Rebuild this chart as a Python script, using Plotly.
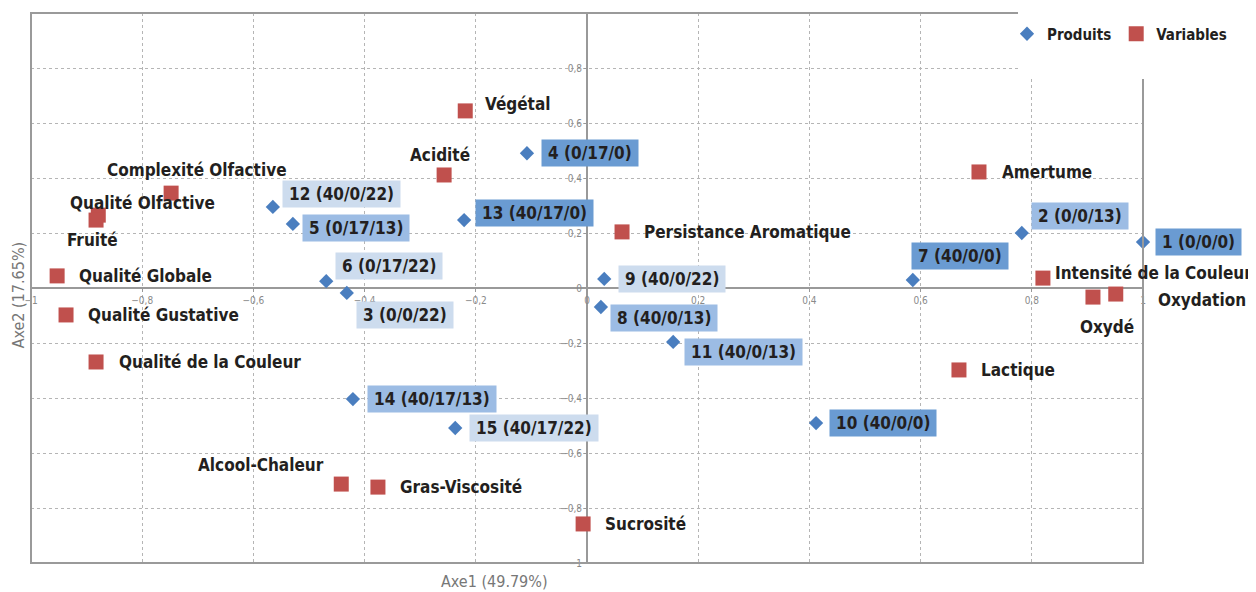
import plotly.graph_objects as go

# ---------------- data ----------------
prod_names = ["1 (0/0/0)", "2 (0/0/13)", "3 (0/0/22)", "4 (0/17/0)", "5 (0/17/13)",
              "6 (0/17/22)", "7 (40/0/0)", "8 (40/0/13)", "9 (40/0/22)", "10 (40/0/0)",
              "11 (40/0/13)", "12 (40/0/22)", "13 (40/17/0)", "14 (40/17/13)", "15 (40/17/22)"]
prod_x = [1.00, 0.782, -0.432, -0.108, -0.529, -0.469, 0.586, 0.025, 0.031, 0.412,
          0.155, -0.565, -0.221, -0.421, -0.237]
prod_y = [0.167, 0.200, -0.018, 0.490, 0.233, 0.025, 0.029, -0.069, 0.033, -0.491,
          -0.196, 0.295, 0.247, -0.404, -0.509]

var_names = ["Végétal", "Acidité", "Complexité Olfactive", "Qualité Olfactive", "Fruité",
             "Qualité Globale", "Qualité Gustative", "Qualité de la Couleur", "Alcool-Chaleur",
             "Gras-Viscosité", "Sucrosité", "Persistance Aromatique", "Amertume",
             "Intensité de la Couleur", "Oxydation", "Oxydé", "Lactique"]
var_x = [-0.219, -0.257, -0.748, -0.879, -0.883, -0.953, -0.937, -0.883, -0.442,
         -0.376, -0.007, 0.063, 0.705, 0.820, 0.951, 0.910, 0.669]
var_y = [0.644, 0.411, 0.345, 0.265, 0.247, 0.044, -0.098, -0.269, -0.713,
         -0.724, -0.858, 0.204, 0.422, 0.036, -0.022, -0.033, -0.298]

tick_vals = [-1, -0.8, -0.6, -0.4, -0.2, 0, 0.2, 0.4, 0.6, 0.8, 1]

# ---------------- styling (label placement, colours) ----------------
FONT = "DejaVu Sans Condensed"
TXT = "#231f20"
box_dark, box_mid, box_light = "#6a9bd2", "#9cbce4", "#cddcee"
PAD = "\u2009"

prod_label_style = [  # (xshift, yshift, bg)
    (12, 0, box_dark), (9, 17, box_mid), (9, -22, box_light), (14, 0, box_dark),
    (9, -4, box_mid), (9, 15, box_light), (-2, 24, box_dark), (9, -11, box_mid),
    (14, 0, box_light), (13, 0, box_dark), (11, -10, box_mid), (9, 13, box_light),
    (11, 7, box_dark), (14, 0, box_mid), (14, 0, box_light)]

var_label_style = [  # (xanchor, xshift, yshift)
    ("left", 18, 7), ("center", -4, 20), ("center", 26, 23), ("center", 44, 12),
    ("center", -4, -20), ("left", 20, 0), ("left", 20, 0), ("left", 21, 0),
    ("right", -15, 19), ("left", 20, 0), ("left", 20, 0), ("left", 20, 0),
    ("left", 21, 0), ("left", 10, 5), ("left", 40, -6), ("center", 14, -30),
    ("left", 20, 0)]

fig = go.Figure()
fig.add_trace(go.Scatter(x=prod_x, y=prod_y, mode="markers", name="Produits",
                         marker=dict(symbol="diamond", size=11, color="#4a7ebf",
                                     line=dict(width=0)),
                         cliponaxis=False, hoverinfo="skip"))
fig.add_trace(go.Scatter(x=var_x, y=var_y, mode="markers", name="Variables",
                         marker=dict(symbol="square", size=15, color="#c0504d",
                                     line=dict(width=0)),
                         cliponaxis=False, hoverinfo="skip"))

label_font = dict(family=FONT, size=17, color=TXT, weight="bold")
annotations = []
for n, x, y, (dx, dy, bg) in zip(prod_names, prod_x, prod_y, prod_label_style):
    annotations.append(dict(x=x, y=y, xref="x", yref="y", text=PAD + n + PAD, showarrow=False,
                            xanchor="left", yanchor="middle", xshift=dx, yshift=dy,
                            bgcolor=bg, borderpad=3, font=label_font))
for n, x, y, (xa, dx, dy) in zip(var_names, var_x, var_y, var_label_style):
    annotations.append(dict(x=x, y=y, xref="x", yref="y", text=n, showarrow=False,
                            xanchor=xa, yanchor="middle", xshift=dx, yshift=dy,
                            font=label_font))

annotations.append(dict(x=0.417, y=-0.034, xref="paper", yref="paper", text="Axe1 (49.79%)",
                        showarrow=False, xanchor="center", yanchor="middle",
                        font=dict(family=FONT, size=16, color="#777777")))
annotations.append(dict(x=-0.0115, y=0.487, xref="paper", yref="paper", text="Axe2 (17.65%)",
                        showarrow=False, xanchor="center", yanchor="middle", textangle=-90,
                        font=dict(family=FONT, size=16, color="#777777")))

axis_common = dict(range=[-1, 1], tickvals=tick_vals, showgrid=True,
                   gridcolor="#b5b5b5", griddash="dot", gridwidth=1,
                   zeroline=True, zerolinecolor="#999999", zerolinewidth=2,
                   showline=False, ticks="outside", ticklen=3, tickcolor="#999999",
                   tickfont=dict(family=FONT, size=10, color="#8a8a8a"),
                   anchor="free", position=0.5, fixedrange=True, automargin=False)

# page body has an 8px default margin: the figure is sized / offset to compensate
W, H = 1248, 584
fig.update_layout(
    width=W, height=H,
    margin=dict(l=23, r=W - 23 - 1112, t=5, b=H - 5 - 550, autoexpand=False),
    paper_bgcolor="white", plot_bgcolor="white",
    separators=", ",
    xaxis=axis_common,
    yaxis=axis_common,
    annotations=annotations,
    showlegend=True,
    legend=dict(orientation="h", xref="container", yref="container",
                x=999 / W, y=1 - 9.5 / H, xanchor="left", yanchor="top",
                bgcolor="rgba(0,0,0,0)", itemwidth=30, tracegroupgap=0,
                font=dict(family=FONT, size=15, color=TXT, weight="bold")),
    shapes=[
        dict(type="rect", xref="paper", yref="paper", x0=0, x1=1, y0=0, y1=1,
             line=dict(color="#9a9a9a", width=2), fillcolor="rgba(0,0,0,0)", layer="above"),
        dict(type="rect", xref="paper", yref="paper", x0=0.8876, x1=1.2, y0=0.88, y1=1.05,
             line=dict(width=0), fillcolor="white", layer="above"),
    ],
)

fig.write_html("out.html")
